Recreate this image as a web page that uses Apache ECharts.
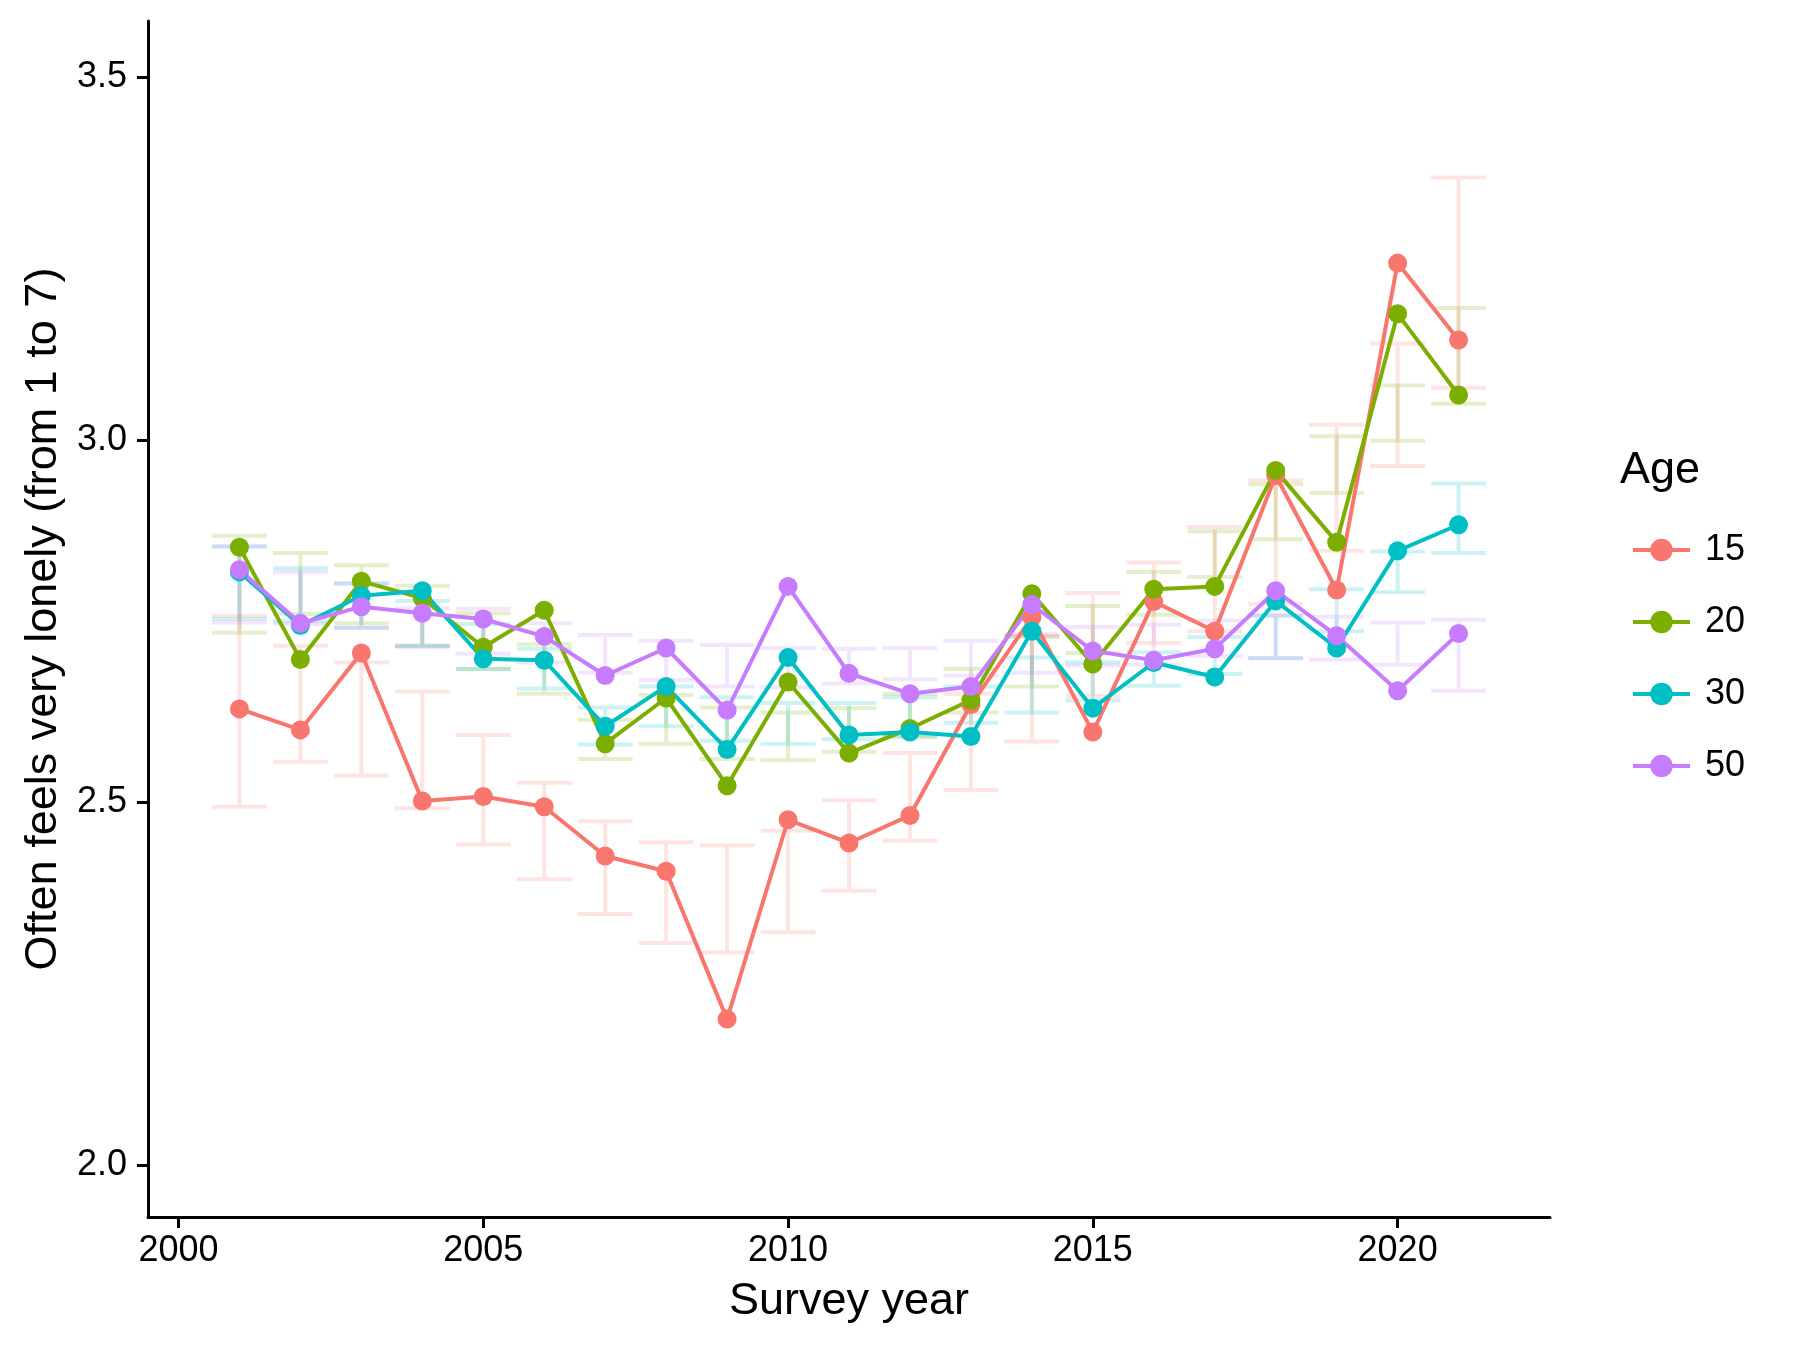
<!DOCTYPE html>
<html>
<head>
<meta charset="utf-8">
<script src="https://cdn.jsdelivr.net/npm/echarts@6/dist/echarts.min.js"></script>
<style>html,body{margin:0;padding:0;background:#fff}#c{width:1800px;height:1350px}</style>
</head>
<body>
<div id="c"></div>
<script>
const years = [2001,2002,2003,2004,2005,2006,2007,2008,2009,2010,2011,2012,2013,2014,2015,2016,2017,2018,2019,2020,2021];
const xTicks = [2000,2005,2010,2015,2020];
const yTicks = [2.0,2.5,3.0,3.5];
const ageGroups = ['15','20','30','50'];

const age15 = [2.629,2.600,2.706,2.502,2.508,2.494,2.426,2.405,2.201,2.476,2.444,2.482,2.635,2.755,2.597,2.777,2.736,2.951,2.793,3.244,3.138];
const age20 = [2.852,2.697,2.805,2.782,2.714,2.765,2.581,2.644,2.523,2.666,2.568,2.602,2.641,2.788,2.691,2.794,2.798,2.958,2.859,3.174,3.062];
const age30 = [2.818,2.744,2.785,2.792,2.698,2.696,2.605,2.660,2.573,2.700,2.593,2.597,2.591,2.736,2.630,2.693,2.673,2.778,2.713,2.847,2.883];
const age50 = [2.821,2.747,2.770,2.761,2.753,2.729,2.675,2.713,2.627,2.798,2.678,2.650,2.660,2.773,2.709,2.696,2.712,2.792,2.730,2.654,2.733];

const lo15 = [2.494,2.556,2.537,2.492,2.442,2.394,2.346,2.306,2.293,2.321,2.378,2.447,2.517,2.584,2.647,2.720,2.736,2.774,2.847,2.964,3.072];
const hi15 = [2.757,2.716,2.693,2.653,2.593,2.527,2.474,2.445,2.441,2.461,2.503,2.568,2.650,2.730,2.789,2.831,2.880,2.944,3.021,3.133,3.362];
const lo20 = [2.734,2.760,2.747,2.716,2.684,2.650,2.560,2.581,2.560,2.558,2.570,2.590,2.624,2.660,2.706,2.759,2.811,2.863,2.927,2.999,3.050];
const hi20 = [2.868,2.844,2.827,2.799,2.761,2.718,2.614,2.648,2.631,2.624,2.630,2.650,2.684,2.728,2.771,2.818,2.874,2.939,3.005,3.075,3.182];
const lo30 = [2.753,2.750,2.741,2.716,2.684,2.657,2.580,2.605,2.585,2.581,2.587,2.592,2.610,2.624,2.641,2.661,2.677,2.699,2.736,2.790,2.844];
const hi30 = [2.853,2.823,2.802,2.778,2.746,2.712,2.631,2.660,2.645,2.637,2.637,2.645,2.660,2.700,2.693,2.707,2.728,2.758,2.794,2.846,2.940];
const lo50 = [2.748,2.746,2.741,2.714,2.705,2.693,2.679,2.669,2.660,2.659,2.664,2.670,2.675,2.679,2.689,2.690,2.702,2.699,2.697,2.690,2.654];
const hi50 = [2.853,2.818,2.802,2.768,2.767,2.747,2.731,2.723,2.717,2.713,2.712,2.713,2.723,2.732,2.742,2.745,2.751,2.758,2.756,2.748,2.752];

const colors = ['#F8766D','#7CAE00','#00BFC4','#C77CFF'];
const means = [age15, age20, age30, age50];
const lows = [lo15, lo20, lo30, lo50];
const highs = [hi15, hi20, hi30, hi50];

const FONT = 'Liberation Sans, Arial, Helvetica, sans-serif';

function errorSeries(i) {
  return {
    type: 'custom',
    name: 'ci' + ageGroups[i],
    z: 1,
    silent: true,
    data: years.map((y, k) => [y, lows[i][k], highs[i][k]]),
    renderItem: function (params, api) {
      const x = api.value(0), lo = api.value(1), hi = api.value(2);
      const a = api.coord([x - 0.45, hi]);
      const b = api.coord([x + 0.45, hi]);
      const c = api.coord([x, hi]);
      const d = api.coord([x, lo]);
      const e = api.coord([x - 0.45, lo]);
      const f = api.coord([x + 0.45, lo]);
      return {
        type: 'polyline',
        shape: { points: [a, b, c, d, e, f] },
        style: { stroke: colors[i], lineWidth: 4, opacity: 0.2, fill: null }
      };
    }
  };
}

function lineSeries(i) {
  return {
    type: 'line',
    name: ageGroups[i],
    z: 3,
    data: years.map((y, k) => [y, means[i][k]]),
    symbol: 'circle',
    symbolSize: 19,
    showAllSymbol: true,
    lineStyle: { color: colors[i], width: 4 },
    itemStyle: { color: colors[i] },
    emphasis: { disabled: true },
    animation: false
  };
}

const series = [];
for (let i = 0; i < 4; i++) series.push(errorSeries(i));
for (let i = 0; i < 4; i++) series.push(lineSeries(i));

const chart = echarts.init(document.getElementById('c'), null, { renderer: 'canvas' });
chart.setOption({
  backgroundColor: '#fff',
  animation: false,
  color: colors,
  textStyle: { fontFamily: FONT },
  title: {
    text: 'Age',
    left: 1615,
    top: 443,
    textStyle: { fontFamily: FONT, fontSize: 45, fontWeight: 'normal', color: '#000' }
  },
  legend: {
    data: ageGroups,
    orient: 'vertical',
    left: 1626,
    top: 527,
    itemWidth: 57,
    itemHeight: 28,
    itemGap: 36,
    selectedMode: false,
    lineStyle: { width: 4 },
    textStyle: { fontFamily: FONT, fontSize: 36, color: '#000', lineHeight: 28, padding: [0, 0, 0, 10] }
  },
  grid: { left: 148, right: 250, top: 21, bottom: 133, containLabel: false },
  xAxis: {
    type: 'value',
    min: 1999.5,
    max: 2022.5,
    name: 'Survey year',
    nameLocation: 'middle',
    nameGap: 62,
    nameTextStyle: { fontFamily: FONT, fontSize: 45, color: '#000' },
    axisLine: { show: true, onZero: false, lineStyle: { color: '#000', width: 3 } },
    axisTick: { show: true, length: 11, customValues: xTicks, lineStyle: { color: '#000', width: 3 } },
    axisLabel: { customValues: xTicks, margin: 16, fontFamily: FONT, fontSize: 36, color: '#000', formatter: v => String(v) },
    splitLine: { show: false }
  },
  yAxis: {
    type: 'value',
    min: 1.928,
    max: 3.578,
    name: 'Often feels very lonely (from 1 to 7)',
    nameLocation: 'middle',
    nameGap: 82,
    nameRotate: 90,
    nameTextStyle: { fontFamily: FONT, fontSize: 45, color: '#000' },
    axisLine: { show: true, onZero: false, lineStyle: { color: '#000', width: 3 } },
    axisTick: { show: true, length: 11, customValues: yTicks, lineStyle: { color: '#000', width: 3 } },
    axisLabel: { customValues: yTicks, margin: 21, fontFamily: FONT, fontSize: 36, color: '#000', formatter: v => Number(v).toFixed(1) },
    splitLine: { show: false }
  },
  series: series
});
</script>
</body>
</html>
